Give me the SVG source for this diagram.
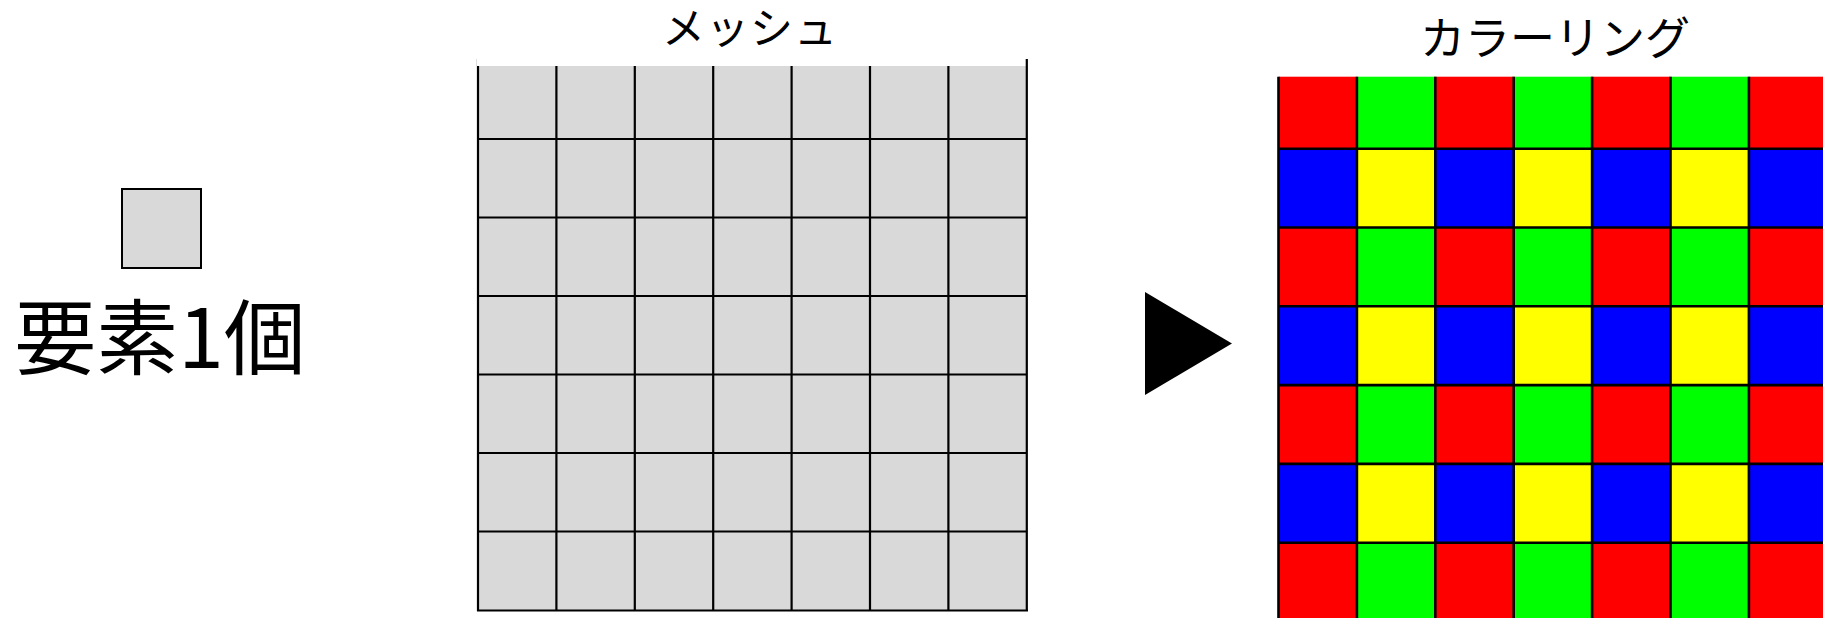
<svg xmlns="http://www.w3.org/2000/svg" width="1823" height="618" viewBox="0 0 1823 618">
<style>
.lbl{font-family:"Noto Sans CJK JP","Noto Sans",sans-serif;fill:#000;text-anchor:middle}
.ln{stroke:#000;stroke-width:2.2;fill:none}
.ln3{stroke:#000;stroke-width:2.6;fill:none}
.g{fill:#D9D9D9}
.r{fill:#FF0000}.gr{fill:#00FF00}.b{fill:#0000FF}.y{fill:#FFFF00}
</style>
<rect width="1823" height="618" fill="#fff"/>
<g id="element">
<rect x="122" y="189" width="79" height="79" fill="#D9D9D9" stroke="#000" stroke-width="2"/>
<text class="lbl" x="160" y="368" font-size="82">要素1個</text>
</g>
<g id="mesh">
<text class="lbl" x="750" y="44" font-size="43" letter-spacing="1">メッシュ</text>
<rect class="g" x="478" y="66" width="549" height="545"/>
<line x1="476.5" y1="59" x2="476.5" y2="66" stroke="#ddd" stroke-width="1"/>
<path class="ln" d="M478 66V611M556.4 66V611M634.8 66V611M713.2 66V611M791.6 66V611M870 66V611M948.4 66V611M1026.8 59V611"/>
<path class="ln" d="M478 139H1027M478 217.5H1027M478 296H1027M478 374.5H1027M478 453H1027M478 531.5H1027M477 610.5H1028"/>
</g>
<g id="connectors">
<polygon points="1145,292 1232,343.5 1145,395" fill="#000"/>
</g>
<g id="coloring">
<text class="lbl" x="1555" y="55" font-size="45">カラーリング</text>
<g id="row0">
<rect class="r" x="1278.5" y="76.7" width="78.4" height="72"/>
<rect class="gr" x="1356.9" y="76.7" width="78.4" height="72"/>
<rect class="r" x="1435.3" y="76.7" width="78.4" height="72"/>
<rect class="gr" x="1513.7" y="76.7" width="78.4" height="72"/>
<rect class="r" x="1592.1" y="76.7" width="78.4" height="72"/>
<rect class="gr" x="1670.5" y="76.7" width="78.4" height="72"/>
<rect class="r" x="1748.9" y="76.7" width="78.4" height="72"/>
</g>
<g id="row1">
<rect class="b" x="1278.5" y="148.7" width="78.4" height="78.8"/>
<rect class="y" x="1356.9" y="148.7" width="78.4" height="78.8"/>
<rect class="b" x="1435.3" y="148.7" width="78.4" height="78.8"/>
<rect class="y" x="1513.7" y="148.7" width="78.4" height="78.8"/>
<rect class="b" x="1592.1" y="148.7" width="78.4" height="78.8"/>
<rect class="y" x="1670.5" y="148.7" width="78.4" height="78.8"/>
<rect class="b" x="1748.9" y="148.7" width="78.4" height="78.8"/>
</g>
<g id="row2">
<rect class="r" x="1278.5" y="227.5" width="78.4" height="78.8"/>
<rect class="gr" x="1356.9" y="227.5" width="78.4" height="78.8"/>
<rect class="r" x="1435.3" y="227.5" width="78.4" height="78.8"/>
<rect class="gr" x="1513.7" y="227.5" width="78.4" height="78.8"/>
<rect class="r" x="1592.1" y="227.5" width="78.4" height="78.8"/>
<rect class="gr" x="1670.5" y="227.5" width="78.4" height="78.8"/>
<rect class="r" x="1748.9" y="227.5" width="78.4" height="78.8"/>
</g>
<g id="row3">
<rect class="b" x="1278.5" y="306.3" width="78.4" height="78.8"/>
<rect class="y" x="1356.9" y="306.3" width="78.4" height="78.8"/>
<rect class="b" x="1435.3" y="306.3" width="78.4" height="78.8"/>
<rect class="y" x="1513.7" y="306.3" width="78.4" height="78.8"/>
<rect class="b" x="1592.1" y="306.3" width="78.4" height="78.8"/>
<rect class="y" x="1670.5" y="306.3" width="78.4" height="78.8"/>
<rect class="b" x="1748.9" y="306.3" width="78.4" height="78.8"/>
</g>
<g id="row4">
<rect class="r" x="1278.5" y="385.1" width="78.4" height="78.8"/>
<rect class="gr" x="1356.9" y="385.1" width="78.4" height="78.8"/>
<rect class="r" x="1435.3" y="385.1" width="78.4" height="78.8"/>
<rect class="gr" x="1513.7" y="385.1" width="78.4" height="78.8"/>
<rect class="r" x="1592.1" y="385.1" width="78.4" height="78.8"/>
<rect class="gr" x="1670.5" y="385.1" width="78.4" height="78.8"/>
<rect class="r" x="1748.9" y="385.1" width="78.4" height="78.8"/>
</g>
<g id="row5">
<rect class="b" x="1278.5" y="463.9" width="78.4" height="78.8"/>
<rect class="y" x="1356.9" y="463.9" width="78.4" height="78.8"/>
<rect class="b" x="1435.3" y="463.9" width="78.4" height="78.8"/>
<rect class="y" x="1513.7" y="463.9" width="78.4" height="78.8"/>
<rect class="b" x="1592.1" y="463.9" width="78.4" height="78.8"/>
<rect class="y" x="1670.5" y="463.9" width="78.4" height="78.8"/>
<rect class="b" x="1748.9" y="463.9" width="78.4" height="78.8"/>
</g>
<g id="row6">
<rect class="r" x="1278.5" y="542.7" width="78.4" height="78.8"/>
<rect class="gr" x="1356.9" y="542.7" width="78.4" height="78.8"/>
<rect class="r" x="1435.3" y="542.7" width="78.4" height="78.8"/>
<rect class="gr" x="1513.7" y="542.7" width="78.4" height="78.8"/>
<rect class="r" x="1592.1" y="542.7" width="78.4" height="78.8"/>
<rect class="gr" x="1670.5" y="542.7" width="78.4" height="78.8"/>
<rect class="r" x="1748.9" y="542.7" width="78.4" height="78.8"/>
</g>
<path class="ln3" d="M1278.5 76.7V618M1356.9 76.7V618M1435.3 76.7V618M1513.7 76.7V618M1592.1 76.7V618M1670.5 76.7V618M1748.9 76.7V618"/>
<path class="ln3" d="M1278.5 148.7H1823M1278.5 227.5H1823M1278.5 306.3H1823M1278.5 385.1H1823M1278.5 463.9H1823M1278.5 542.7H1823"/>
</g>
</svg>
